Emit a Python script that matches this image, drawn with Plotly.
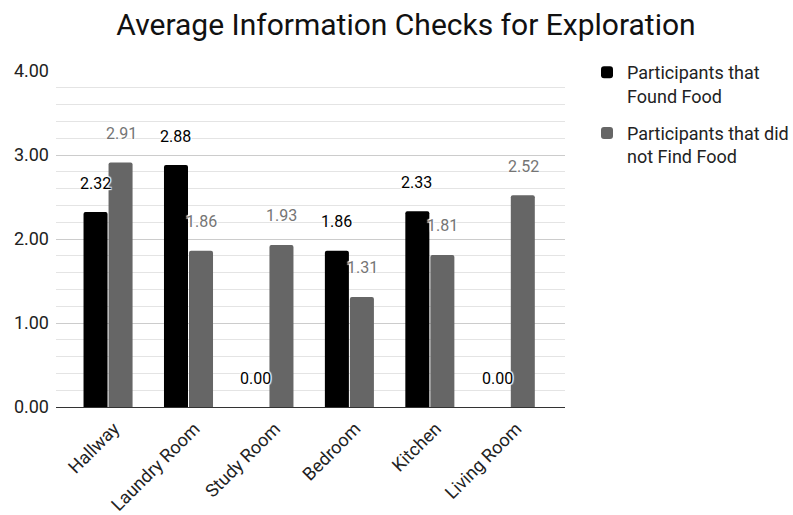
import plotly.graph_objects as go

# Room categories and the two participant groups
rooms = ["Hallway", "Laundry Room", "Study Room", "Bedroom", "Kitchen", "Living Room"]
found_food = [2.32, 2.88, 0.00, 1.86, 2.33, 0.00]
not_found_food = [2.91, 1.86, 1.93, 1.31, 1.81, 2.52]
y_ticks = [0, 1, 2, 3, 4]
y_tick_labels = ["0.00", "1.00", "2.00", "3.00", "4.00"]

series = [
    ("Participants that<br>Found Food", found_food, "#000000", "#000000"),
    ("Participants that did<br>not Find Food", not_found_food, "#666666", "#757575"),
]

FONT = "Roboto"
fig = go.Figure()
for i, (name, vals, color, _) in enumerate(series):
    fig.add_trace(go.Bar(
        x=rooms, y=vals, name=name, marker_color=color,
        marker_line_width=0, legendgroup=f"g{i}", offsetgroup=i,
    ))

# Value labels above each bar, with a white halo
halo = ("1px 1px 1px #fff, -1px -1px 1px #fff, 1px -1px 1px #fff, "
        "-1px 1px 1px #fff, 0 0 2px #fff")
n = len(series)
annotations = []
for i, (name, vals, color, label_color) in enumerate(series):
    for j, v in enumerate(vals):
        annotations.append(dict(
            x=j, y=v, xref="x", yref="y",
            text=f"{v:.2f}", showarrow=False,
            xshift=(i - (n - 1) / 2) * 26, yshift=29,
            font=dict(family=FONT, size=16, color=label_color, shadow=halo),
        ))

fig.update_layout(
    width=793, height=515,
    margin=dict(l=56, r=228, t=71, b=108, autoexpand=False),
    paper_bgcolor="white", plot_bgcolor="white",
    font=dict(family=FONT, size=18, color="#222222"),
    title=dict(
        text="Average Information Checks for Exploration",
        x=406 / 793, xanchor="center", xref="container",
        y=1 - 24 / 515, yanchor="middle", yref="container",
        font=dict(family=FONT, size=30, color="#111111"),
    ),
    barmode="group", bargap=0.378, bargroupgap=0.04, barcornerradius=2,
    legend=dict(
        x=587 / 793, xref="container", xanchor="left",
        y=1 - 54 / 515, yref="container", yanchor="top",
        font=dict(family=FONT, size=18, color="#222222"),
        valign="top", tracegroupgap=11, bgcolor="rgba(0,0,0,0)",
    ),
    annotations=annotations,
    showlegend=True,
)
fig.update_xaxes(
    type="category", range=[-0.647, 5.68], automargin=False,
    showgrid=False, showline=True, linecolor="#333333", linewidth=1,
    ticks="", tickangle=-45, ticklabelshift=6, ticklabelstandoff=3,
    tickfont=dict(family=FONT, size=18, color="#222222"),
)
fig.update_yaxes(
    range=[0, 4], tickvals=y_ticks, ticktext=y_tick_labels, automargin=False,
    showgrid=True, gridcolor="#cccccc", gridwidth=1,
    minor=dict(dtick=0.2, showgrid=True, gridcolor="#e4e4e4", gridwidth=1),
    zeroline=False, showline=False, ticks="", ticklabelstandoff=6,
    tickfont=dict(family=FONT, size=18, color="#222222"),
)

fig.write_html("out.html")
